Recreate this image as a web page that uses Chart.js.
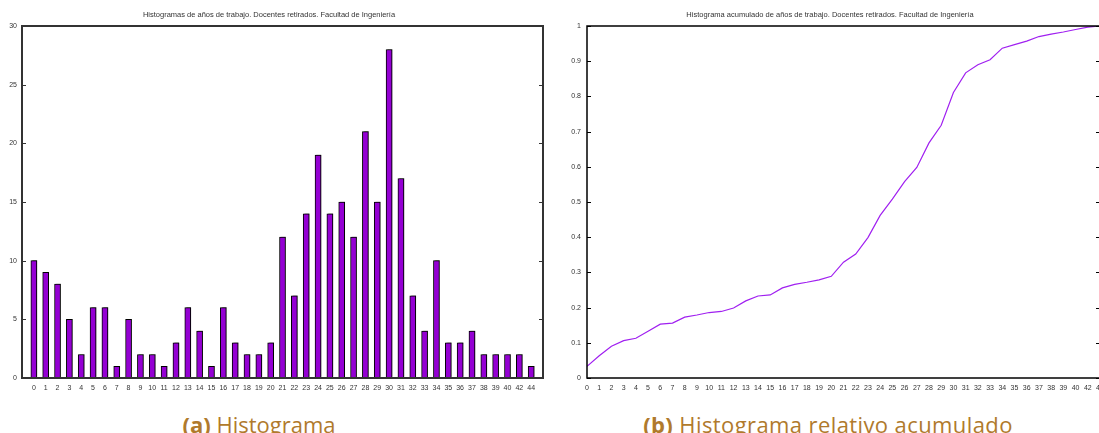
<!DOCTYPE html>
<html><head><meta charset="utf-8">
<script src="https://cdn.jsdelivr.net/npm/chart.js@4.4.0/dist/chart.umd.min.js"></script>
<style>
html,body{margin:0;padding:0;background:#fff;overflow:hidden;width:1099px;height:433px;}
#wrap{position:relative;width:1099px;height:433px;overflow:hidden;}
.box{position:absolute;top:0;}
.cap{position:absolute;top:413px;font-family:'Open Sans',Lato,sans-serif;font-size:22px;font-weight:400;letter-spacing:0.4px;color:#b07a2c;white-space:nowrap;transform:translateX(-50%);line-height:1;}
.cap b{font-weight:700}
</style></head><body>
<div id="wrap">
<div class="box" style="left:0;"><canvas id="c1" width="550" height="395"></canvas></div>
<div class="box" style="left:560px;"><canvas id="c2" width="550" height="395"></canvas></div>
<div class="cap" style="left:259px;letter-spacing:0"><b>(a)</b> Histograma</div>
<div class="cap" style="left:828px"><b>(b)</b> Histograma relativo acumulado</div>
</div>
<script>
// Categories: years of work
const categories = [0,1,2,3,4,5,6,7,8,9,10,11,12,13,14,15,16,17,18,19,20,21,22,23,24,25,26,27,28,29,30,31,32,33,34,35,36,37,38,39,40,42,44];
// Histogram counts
const counts = [10,9,8,5,2,6,6,1,5,2,2,1,3,6,4,1,6,3,2,2,3,12,7,14,19,14,15,12,21,15,28,17,7,4,10,3,3,4,2,2,2,2,1];
// Cumulative relative frequency
const cumulative = [0.033,0.063,0.090,0.106,0.113,0.133,0.153,0.156,0.173,0.179,0.186,0.189,0.199,0.219,0.233,0.236,0.256,0.266,0.272,0.279,0.289,0.329,0.352,0.399,0.462,0.508,0.558,0.598,0.668,0.718,0.811,0.867,0.890,0.904,0.937,0.947,0.957,0.970,0.977,0.983,0.990,0.997,1.000];
const yTicksLeft = [0,5,10,15,20,25,30];
const yTicksRight = [0,0.1,0.2,0.3,0.4,0.5,0.6,0.7,0.8,0.9,1];
const title1 = 'Histogramas de años de trabajo. Docentes retirados. Facultad de Ingeniería';
const title2 = 'Histograma acumulado de años de trabajo. Docentes retirados. Facultad de Ingeniería';

const FONT = '"Liberation Sans", Arial, sans-serif';
Chart.defaults.font.family = FONT;
Chart.defaults.color = '#333';

const frame = {
  id: 'frame',
  beforeDatasetsDraw(chart, args, o) {
    if (o.shadow) {
      const ctx = chart.ctx; ctx.save();
      ctx.shadowColor = 'rgba(0,0,0,0.35)'; ctx.shadowOffsetX = 1.5; ctx.shadowOffsetY = -1; ctx.shadowBlur = 0;
    }
  },
  afterDatasetsDraw(chart, args, o) { if (o.shadow) chart.ctx.restore(); },
  afterDraw(chart, args, o) {
    const {ctx, chartArea: a, scales: {y}} = chart;
    ctx.save();
    ctx.strokeStyle = o.color; ctx.lineWidth = 1;
    y.ticks.forEach(t => {
      const py = Math.round(y.getPixelForValue(t.value)) + 0.5;
      ctx.beginPath();
      ctx.moveTo(a.left, py); ctx.lineTo(a.left + 4, py);
      ctx.moveTo(a.right, py); ctx.lineTo(a.right - 4, py);
      ctx.stroke();
    });
    ctx.lineWidth = o.width;
    ctx.strokeRect(a.left, a.top, a.right - a.left, a.bottom - a.top);
    ctx.fillStyle = '#333'; ctx.font = '7.5px ' + FONT; ctx.textAlign = 'center'; ctx.textBaseline = 'middle';
    ctx.fillText(o.title, o.tx, 15);
    ctx.restore();
  }
};

new Chart(document.getElementById('c1'), {
  type: 'bar',
  data: { datasets: [{
    data: counts.map((v, i) => ({x: i, y: v})),
    backgroundColor: '#9400D3', borderColor: '#000', borderWidth: 1, barThickness: 6, borderSkipped: false
  }]},
  options: {
    responsive: false, animation: false, devicePixelRatio: 1,
    layout: {padding: {top: 26, left: 0, right: 7, bottom: 0}},
    plugins: {legend: {display: false}, tooltip: {enabled: false},
      frame: {color: '#333', width: 2, title: title1, tx: 269, shadow: true}},
    scales: {
      x: {type: 'linear', min: -1, max: 43, offset: false,
        grid: {display: false, drawTicks: false}, border: {display: false},
        afterFit: s => { s.height = 17; },
        afterBuildTicks: s => { s.ticks = []; for (let i = -1; i <= 43; i++) s.ticks.push({value: i}); },
        ticks: {autoSkip: false, maxRotation: 0, padding: 6, font: {size: 7},
          callback: v => (categories[v] !== undefined ? String(categories[v]) : '')}},
      y: {min: 0, max: 30,
        grid: {display: false, drawTicks: false}, border: {display: false},
        afterFit: s => { s.width = 22; },
        afterBuildTicks: s => { s.ticks = yTicksLeft.map(v => ({value: v})); },
        ticks: {padding: 5, font: {size: 7}}}
    }
  },
  plugins: [frame]
});

new Chart(document.getElementById('c2'), {
  type: 'line',
  data: { labels: categories.map(String), datasets: [{
    data: cumulative, borderColor: '#a020f0', borderWidth: 1.2, pointRadius: 0, tension: 0, fill: false
  }]},
  options: {
    responsive: false, animation: false, devicePixelRatio: 1,
    layout: {padding: {top: 26, left: 0, right: 10, bottom: 0}},
    plugins: {legend: {display: false}, tooltip: {enabled: false},
      frame: {color: '#000', width: 1.5, title: title2, tx: 270, shadow: false}},
    scales: {
      x: {offset: false, grid: {display: false, drawTicks: false}, border: {display: false},
        afterFit: s => { s.height = 17; },
        ticks: {autoSkip: false, maxRotation: 0, padding: 6, font: {size: 7}}},
      y: {min: 0, max: 1,
        grid: {display: false, drawTicks: false}, border: {display: false},
        afterFit: s => { s.width = 27; },
        afterBuildTicks: s => { s.ticks = yTicksRight.map(v => ({value: v})); },
        ticks: {padding: 6, font: {size: 7}, callback: v => String(Number(v.toFixed(1)))}}
    }
  },
  plugins: [frame]
});
</script>
</body></html>
